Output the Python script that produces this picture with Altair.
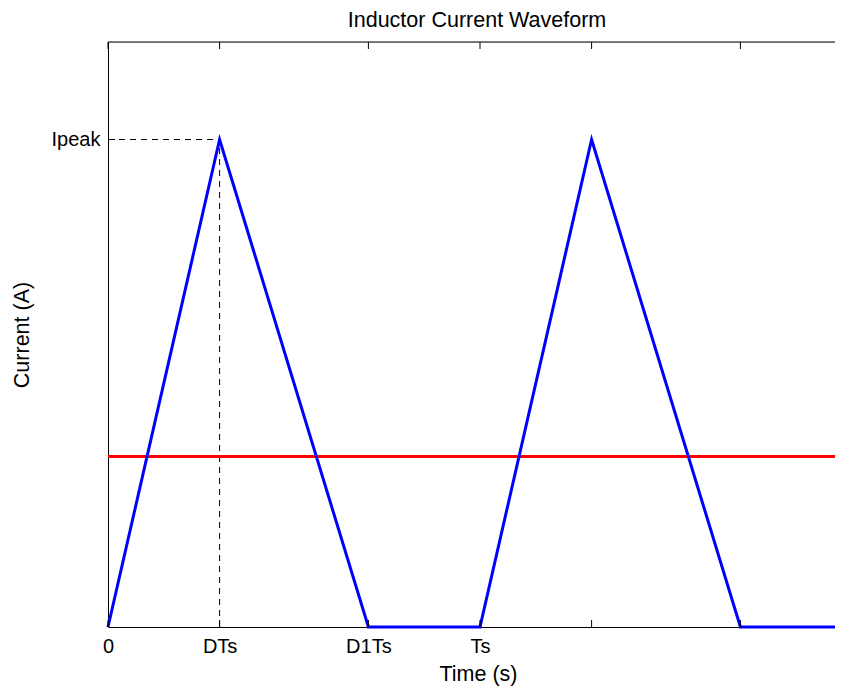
import altair as alt
import pandas as pd

# ---- data ----
wave_t = [0.0, 0.3, 0.7, 1.0, 1.3, 1.7, 2.0]     # time (in units of Ts)
wave_i = [0.0, 1.0, 0.0, 0.0, 1.0, 0.0, 0.0]     # current (in units of Ipeak)
avg_t = [0.0, 2.0]
avg_i = [0.35, 0.35]                              # average current

x_ticks = [0.0, 0.3, 0.7, 1.0, 1.3, 1.7]
x_tick_labels = ["0", "DTs", "D1Ts", "Ts", "", ""]
y_ticks = [1.0]
y_tick_labels = ["Ipeak"]

guide_x = [0.0, 0.3]
guide_x2 = [0.3, 0.3]
guide_y = [1.0, 0.0]
guide_y2 = [1.0, 1.0]

title_text = ["Inductor Current Waveform"]

W, H = 727, 585
x_domain = [0.0, W / 372.0]
y_domain = [0.0, 1.2]
FONT = "Liberation Sans"

wave = pd.DataFrame({"t": wave_t, "i": wave_i})
avg = pd.DataFrame({"t": avg_t, "i": avg_i})
guides = pd.DataFrame({"x": guide_x, "x2": guide_x2, "y": guide_y, "y2": guide_y2})
xt = pd.DataFrame({"t": x_ticks})
yt = pd.DataFrame({"i": y_ticks})
ttl = pd.DataFrame({"txt": title_text})

x_expr = " : ".join(
    f"datum.value == {v} ? '{l}'" for v, l in zip(x_ticks, x_tick_labels)
) + " : ''"
y_expr = " : ".join(
    f"datum.value == {v} ? '{l}'" for v, l in zip(y_ticks, y_tick_labels)
) + " : ''"

xscale = alt.Scale(domain=x_domain, clamp=True, nice=False, zero=False)
yscale = alt.Scale(domain=y_domain, nice=False, zero=False)

xaxis = alt.Axis(
    values=x_ticks, labelExpr=x_expr, grid=False, tickSize=0,
    labelPadding=25, labelBaseline="alphabetic", labelFontSize=20,
    labelFont=FONT, labelColor="black", domainColor="black", domainWidth=1,
    title="Time (s)", titleFont=FONT, titleFontSize=21.5, titleFontWeight="normal",
    titleColor="black", titleX=370, titleY=53, titleBaseline="alphabetic",
    labelFlush=False, labelOverlap=False,
)
yaxis = alt.Axis(
    values=y_ticks, labelExpr=y_expr, grid=False, tickSize=0,
    labelPadding=8, labelBaseline="middle", labelFontSize=20,
    labelFont=FONT, labelColor="black", domainColor="black", domainWidth=1,
    title="Current (A)", titleFont=FONT, titleFontSize=21.5, titleFontWeight="normal",
    titleColor="black", titleX=-86, titleY=H / 2, titleBaseline="middle",
    titleAngle=270, titleAlign="center", labelFlush=False, labelOverlap=False,
)

guide_layer = alt.Chart(guides).mark_rule(
    color="black", strokeWidth=1, strokeDash=[6, 5]
).encode(
    x=alt.X("x:Q", scale=xscale, axis=xaxis),
    x2="x2:Q",
    y=alt.Y("y:Q", scale=yscale, axis=yaxis),
    y2="y2:Q",
)

avg_layer = alt.Chart(avg).mark_line(color="#FF0000", strokeWidth=3).encode(
    x=alt.X("t:Q", scale=xscale), y=alt.Y("i:Q", scale=yscale)
)

wave_layer = alt.Chart(wave).mark_line(color="#0000FF", strokeWidth=3).encode(
    x=alt.X("t:Q", scale=xscale), y=alt.Y("i:Q", scale=yscale)
)

bottom_ticks = alt.Chart(xt).mark_rule(color="black", strokeWidth=1).encode(
    x=alt.X("t:Q", scale=xscale), y=alt.value(H), y2=alt.value(H - 7)
)
top_ticks = alt.Chart(xt).mark_rule(color="black", strokeWidth=1).encode(
    x=alt.X("t:Q", scale=xscale), y=alt.value(0), y2=alt.value(7)
)
left_ticks = alt.Chart(yt).mark_rule(color="black", strokeWidth=1).encode(
    y=alt.Y("i:Q", scale=yscale), x=alt.value(0), x2=alt.value(7)
)
top_border = alt.Chart(pd.DataFrame({"a": [0]})).mark_rule(
    color="black", strokeWidth=1
).encode(x=alt.value(0), x2=alt.value(W), y=alt.value(0))

title_layer = alt.Chart(ttl).mark_text(
    font=FONT, fontSize=21.5, color="black", align="center", baseline="alphabetic"
).encode(text="txt:N", x=alt.value(369), y=alt.value(-15))

chart = alt.layer(
    guide_layer, avg_layer, wave_layer, bottom_ticks, top_ticks, left_ticks,
    top_border, title_layer
).properties(
    width=W, height=H,
    autosize=alt.AutoSizeParams(type="none"),
    padding={"left": 100, "top": 34, "right": 0, "bottom": 61},
).configure_view(strokeWidth=0).configure(background="white")

chart.save("out.html", embed_options={"renderer": "svg", "actions": False})
